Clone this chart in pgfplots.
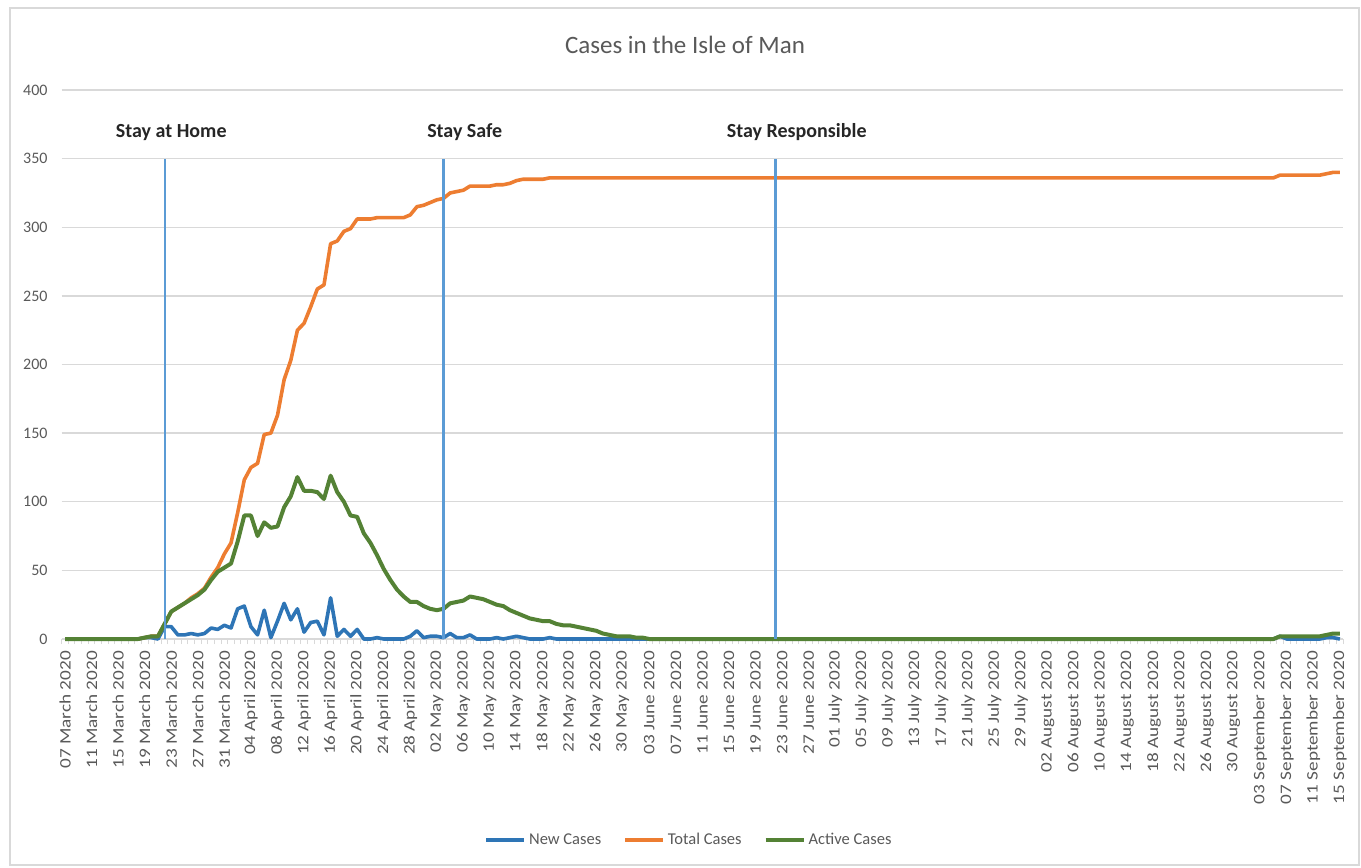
\documentclass[border=0pt]{standalone}
\usepackage{fontspec}
\setmainfont{Carlito}
\newfontfamily\xlabfont{Carlito}[FakeStretch=1.2]
\usepackage{pgfplots}
\pgfplotsset{compat=1.18}
\usepackage{pgfplotstable}
\definecolor{newc}{HTML}{2E75B6}
\definecolor{totc}{HTML}{ED7D31}
\definecolor{actc}{HTML}{548235}
\definecolor{vline}{HTML}{5B9BD5}
\definecolor{txtgray}{HTML}{595959}
\definecolor{gridc}{HTML}{D9D9D9}

\pgfplotstableread{
d new total active
0 0 0 0
1 0 0 0
2 0 0 0
3 0 0 0
4 0 0 0
5 0 0 0
6 0 0 0
7 0 0 0
8 0 0 0
9 0 0 0
10 0 0 0
11 0 0 0
12 1 1 1
13 1 2 2
14 0 2 2
15 9 11 11
16 9 20 20
17 3 23 23
18 3 26 26
19 4 30 29
20 3 33 32
21 4 37 36
22 8 45 43
23 7 52 49
24 10 62 52
25 8 70 55
26 22 92 71
27 24 116 90
28 9 125 90
29 3 128 75
30 21 149 85
31 1 150 81
32 13 163 82
33 26 189 96
34 14 203 104
35 22 225 118
36 5 230 108
37 12 242 108
38 13 255 107
39 3 258 102
40 30 288 119
41 2 290 107
42 7 297 100
43 2 299 90
44 7 306 89
45 0 306 77
46 0 306 70
47 1 307 61
48 0 307 51
49 0 307 43
50 0 307 36
51 0 307 31
52 2 309 27
53 6 315 27
54 1 316 24
55 2 318 22
56 2 320 21
57 1 321 22
58 4 325 26
59 1 326 27
60 1 327 28
61 3 330 31
62 0 330 30
63 0 330 29
64 0 330 27
65 1 331 25
66 0 331 24
67 1 332 21
68 2 334 19
69 1 335 17
70 0 335 15
71 0 335 14
72 0 335 13
73 1 336 13
74 0 336 11
75 0 336 10
76 0 336 10
77 0 336 9
78 0 336 8
79 0 336 7
80 0 336 6
81 0 336 4
82 0 336 3
83 0 336 2
84 0 336 2
85 0 336 2
86 0 336 1
87 0 336 1
88 0 336 0
89 0 336 0
90 0 336 0
91 0 336 0
92 0 336 0
93 0 336 0
94 0 336 0
95 0 336 0
96 0 336 0
97 0 336 0
98 0 336 0
99 0 336 0
100 0 336 0
101 0 336 0
102 0 336 0
103 0 336 0
104 0 336 0
105 0 336 0
106 0 336 0
107 0 336 0
108 0 336 0
109 0 336 0
110 0 336 0
111 0 336 0
112 0 336 0
113 0 336 0
114 0 336 0
115 0 336 0
116 0 336 0
117 0 336 0
118 0 336 0
119 0 336 0
120 0 336 0
121 0 336 0
122 0 336 0
123 0 336 0
124 0 336 0
125 0 336 0
126 0 336 0
127 0 336 0
128 0 336 0
129 0 336 0
130 0 336 0
131 0 336 0
132 0 336 0
133 0 336 0
134 0 336 0
135 0 336 0
136 0 336 0
137 0 336 0
138 0 336 0
139 0 336 0
140 0 336 0
141 0 336 0
142 0 336 0
143 0 336 0
144 0 336 0
145 0 336 0
146 0 336 0
147 0 336 0
148 0 336 0
149 0 336 0
150 0 336 0
151 0 336 0
152 0 336 0
153 0 336 0
154 0 336 0
155 0 336 0
156 0 336 0
157 0 336 0
158 0 336 0
159 0 336 0
160 0 336 0
161 0 336 0
162 0 336 0
163 0 336 0
164 0 336 0
165 0 336 0
166 0 336 0
167 0 336 0
168 0 336 0
169 0 336 0
170 0 336 0
171 0 336 0
172 0 336 0
173 0 336 0
174 0 336 0
175 0 336 0
176 0 336 0
177 0 336 0
178 0 336 0
179 0 336 0
180 0 336 0
181 0 336 0
182 0 336 0
183 2 338 2
184 0 338 2
185 0 338 2
186 0 338 2
187 0 338 2
188 0 338 2
189 0 338 2
190 1 339 3
191 1 340 4
192 0 340 4
}\casedata

\begin{document}
\begin{tikzpicture}
\useasboundingbox (0pt,0pt) rectangle (1361pt,-868pt);
\draw[gridc, line width=1.5pt] (10pt,-8pt) rectangle (1359pt,-865pt);
\node[font=\fontsize{25}{30}\selectfont, text=txtgray] at (685pt,-45pt) {Cases in the Isle of Man};
\begin{axis}[
  at={(61.7pt,-639pt)}, anchor=south west,
  scale only axis, width=1281.5pt, height=549pt,
  xmin=-0.5, xmax=192.5, ymin=0, ymax=400,
  xtick={0,4,...,192},
  xticklabels={07 March 2020,11 March 2020,15 March 2020,19 March 2020,23 March 2020,27 March 2020,31 March 2020,04 April 2020,08 April 2020,12 April 2020,16 April 2020,20 April 2020,24 April 2020,28 April 2020,02 May 2020,06 May 2020,10 May 2020,14 May 2020,18 May 2020,22 May 2020,26 May 2020,30 May 2020,03 June 2020,07 June 2020,11 June 2020,15 June 2020,19 June 2020,23 June 2020,27 June 2020,01 July 2020,05 July 2020,09 July 2020,13 July 2020,17 July 2020,21 July 2020,25 July 2020,29 July 2020,02 August 2020,06 August 2020,10 August 2020,14 August 2020,18 August 2020,22 August 2020,26 August 2020,30 August 2020,03 September 2020,07 September 2020,11 September 2020,15 September 2020},
  minor xtick={-0.5,0.5,...,192.5},
  ytick={0,50,...,400},
  /pgf/number format/assume math mode=true,
  axis line style={draw=none},
  ymajorgrids, grid style={gridc, line width=1.3pt},
  major tick length=0pt, minor tick length=5pt, tick align=outside,
  xtick pos=bottom, ytick pos=left,
  every minor tick/.append style={gridc, line width=1pt},
  xticklabel style={rotate=90, anchor=east, inner sep=0pt, font=\xlabfont\fontsize{16}{18}\selectfont, text=txtgray},
  xticklabel shift=12pt,
  yticklabel style={inner sep=0pt, font=\fontsize{16}{18}\selectfont, text=txtgray},
  yticklabel shift=14pt,
  legend style={at={(0.4895,-0.366)}, anchor=center, draw=none, fill=none,
    legend columns=3, font=\fontsize{16.5}{19}\selectfont, text=txtgray,
    /tikz/every even column/.append style={column sep=20pt},
    /tikz/every odd column/.append style={column sep=1pt}},
  legend image code/.code={\draw[#1] (0pt,0pt) -- (38pt,0pt);},
  clip=false,
]
\addplot[newc, line width=3.6pt, line join=round] table[x=d, y=new] {\casedata};
\addlegendentry{New Cases}
\addplot[totc, line width=3.6pt, line join=round] table[x=d, y=total] {\casedata};
\addlegendentry{Total Cases}
\addplot[actc, line width=4pt, line join=round] table[x=d, y=active] {\casedata};
\addlegendentry{Active Cases}
\addplot[vline, line width=2.2pt, forget plot] coordinates {(15,0) (15,350)};
\addplot[vline, line width=2.2pt, forget plot] coordinates {(57,0) (57,350)};
\addplot[vline, line width=2.2pt, forget plot] coordinates {(107,0) (107,350)};
\node[font=\bfseries\fontsize{20}{24}\selectfont, text=black!85] at (axis cs:16,369) {Stay at Home};
\node[font=\bfseries\fontsize{20}{24}\selectfont, text=black!85] at (axis cs:60.2,369) {Stay Safe};
\node[font=\bfseries\fontsize{20}{24}\selectfont, text=black!85] at (axis cs:110.2,369) {Stay Responsible};
\end{axis}
\end{tikzpicture}
\end{document}
